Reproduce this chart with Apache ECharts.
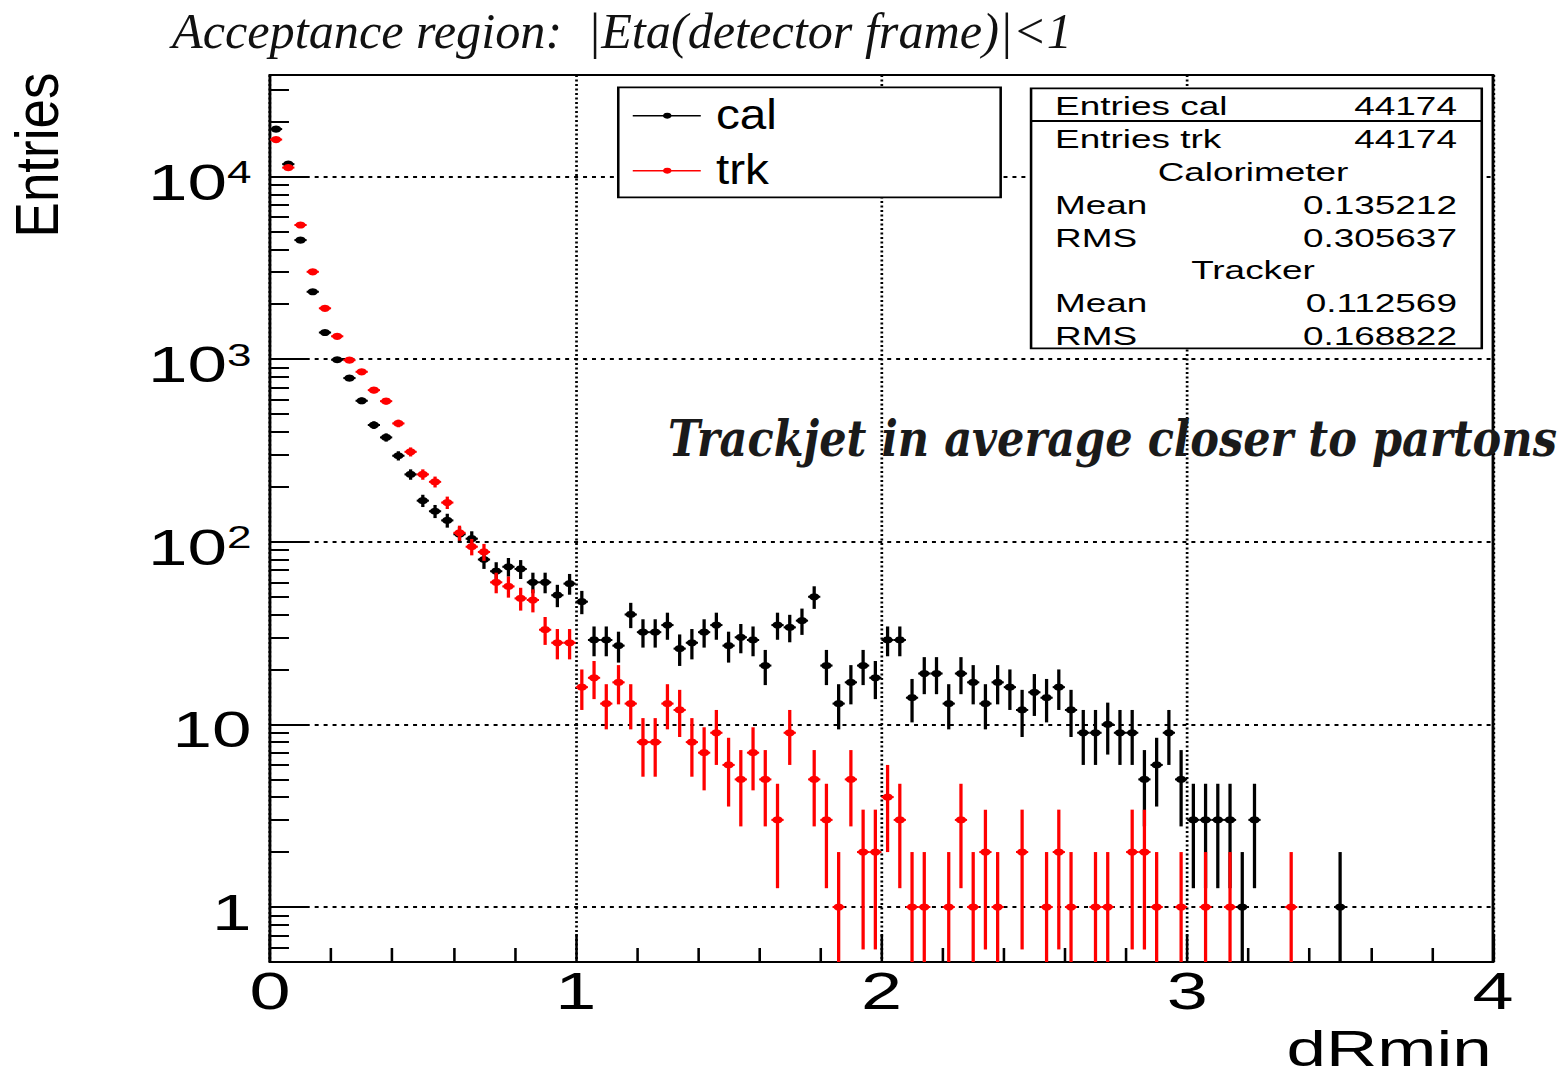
<!DOCTYPE html>
<html>
<head>
<meta charset="utf-8">
<title>dRmin</title>
<script src="https://cdn.jsdelivr.net/npm/echarts@6/dist/echarts.min.js"></script>
<style>
  html, body { margin: 0; padding: 0; background: #ffffff; overflow: hidden; }
  /* the canvas is laid out narrow and stretched sideways */
  #chart { width: 1100px; height: 1077px; transform: scaleX(1.42); transform-origin: 0 0; }
</style>
</head>
<body>
<div id="chart"></div>
<script>
// Histogram binning: 100 bins over [0, 4]
const BIN_LO = 0;
const BIN_WIDTH = 0.04;

// Entries per bin, calorimeter jets
const calCounts = [
  18200, 11700, 4490, 2340, 1400, 993, 788, 592, 436, 373,
  296, 234, 168, 147, 131, 110, 104, 80, 69, 73,
  71, 60, 60, 51, 59, 47, 29, 29, 27, 40,
  32, 32, 35, 26, 28, 32, 35, 27, 30, 29,
  21, 35, 34, 37, 50, 21, 13, 17, 21, 18,
  29, 29, 14, 19, 19, 13, 19, 17, 13, 17,
  16, 12, 15, 14, 16, 12, 9, 9, 10, 9,
  9, 5, 6, 9, 5, 3, 3, 3, 3, 1,
  3, 0, 0, 0, 0, 0, 0, 1, 0, 0,
  0, 0, 0, 0, 0, 0, 0, 0, 0, 0
];

// Entries per bin, track jets
const trkCounts = [
  15950, 11200, 5430, 3010, 1900, 1335, 988, 853, 677, 589,
  445, 311, 234, 213, 164, 112, 94, 88, 60, 57,
  49, 48, 33, 28, 28, 16, 18, 13, 17, 13,
  8, 8, 13, 12, 8, 7, 9, 6, 5, 7,
  5, 3, 9, 0, 5, 3, 1, 5, 2, 2,
  4, 3, 1, 1, 0, 1, 3, 1, 2, 1,
  0, 2, 0, 1, 2, 1, 0, 1, 1, 0,
  2, 2, 1, 0, 1, 0, 1, 0, 1, 0,
  0, 0, 0, 1, 0, 0, 0, 0, 0, 0,
  0, 0, 0, 0, 0, 0, 0, 0, 0, 0
];

const seriesNames = ['cal', 'trk'];
const seriesColors = ['#000000', '#ff0000'];

const xTicks = [0, 1, 2, 3, 4];
const yTicks = [1, 10, 100, 1000, 10000];
const yMinorTicks = [
  0.6, 0.7, 0.8, 0.9,
  2, 3, 4, 5, 6, 7, 8, 9,
  20, 30, 40, 50, 60, 70, 80, 90,
  200, 300, 400, 500, 600, 700, 800, 900,
  2000, 3000, 4000, 5000, 6000, 7000, 8000, 9000,
  20000, 30000
];

const statsLabels = ['Entries cal', 'Entries trk', 'Calorimeter', 'Mean', 'RMS', 'Tracker', 'Mean', 'RMS'];
const statsValues = ['44174', '44174', '', '0.135212', '0.305637', '', '0.112569', '0.168822'];

const titleText = 'Acceptance region:  |Eta(detector frame)|<1';
const noteText = 'Trackjet in average closer to partons';
const xTitle = 'dRmin';
const yTitle = 'Entries';

const SANS = 'Liberation Sans';
const BOX_Z = 60;

// one [centre, entries] pair per non-empty bin
function toPoints(counts) {
  const pts = [];
  counts.forEach(function (n, i) {
    if (n > 0) pts.push([BIN_LO + (i + 0.5) * BIN_WIDTH, n]);
  });
  return pts;
}

// marker with sqrt(N) vertical error and half-bin horizontal bar
function binRenderer(color) {
  return function (params, api) {
    const x = api.value(0);
    const n = api.value(1);
    const err = Math.sqrt(n);
    const cs = params.coordSys;
    const top = cs.y;
    const bottom = cs.y + cs.height;
    const p = api.coord([x, n]);
    const hi = Math.max(api.coord([x, n + err])[1], top);
    const lo = (n - err) > 0 ? Math.min(api.coord([x, n - err])[1], bottom) : bottom;
    const xl = api.coord([x - BIN_WIDTH / 2, n])[0];
    const xr = api.coord([x + BIN_WIDTH / 2, n])[0];
    return {
      type: 'group',
      children: [
        { type: 'line', shape: { x1: p[0], y1: hi, x2: p[0], y2: lo }, style: { stroke: color, lineWidth: 2.3 } },
        { type: 'line', shape: { x1: xl, y1: p[1], x2: xr, y2: p[1] }, style: { stroke: color, lineWidth: 2 } },
        { type: 'circle', shape: { cx: p[0], cy: p[1], r: 3.6 }, style: { fill: color } }
      ]
    };
  };
}

const measureCtx = document.createElement('canvas').getContext('2d');
function textWidth(text, font) {
  measureCtx.font = font;
  return measureCtx.measureText(text).width;
}

const TITLE_FONT = 'italic 50px "Liberation Serif"';
const NOTE_FONT = 'italic bold 50px "DejaVu Serif"';
const titleScale = 633.8 / textWidth(titleText, TITLE_FONT);
const noteScale = 626 / textWidth(noteText, NOTE_FONT);

// legend box
const legendBox = { x: 435.4, y: 87.3, w: 269.3, h: 110 };
const legendRowsY = [115.7, 170.7];
const legendChildren = [
  { type: 'rect', z: BOX_Z, shape: { x: legendBox.x, y: legendBox.y, width: legendBox.w, height: legendBox.h },
    style: { fill: '#ffffff', stroke: '#000000', lineWidth: 1.8 } }
];
seriesNames.forEach(function (name, i) {
  const y = legendRowsY[i];
  legendChildren.push(
    { type: 'line', z: BOX_Z + 1, shape: { x1: 445.6, y1: y, x2: 493.5, y2: y }, style: { stroke: seriesColors[i], lineWidth: 1.5 } },
    { type: 'circle', z: BOX_Z + 1, shape: { cx: 469.9, cy: y, r: 3 }, style: { fill: seriesColors[i] } },
    { type: 'text', z: BOX_Z + 1, x: 504.2, y: y - 1.5, scaleX: 0.8,
      style: { text: name, font: '42px "' + SANS + '"', fill: '#000000', align: 'left', verticalAlign: 'middle' } }
  );
});

// statistics box
const statsBox = { x: 726.1, y: 88.3, w: 317.4, h: 260 };
const statsChildren = [
  { type: 'rect', z: BOX_Z, shape: { x: statsBox.x, y: statsBox.y, width: statsBox.w, height: statsBox.h },
    style: { fill: '#ffffff', stroke: '#000000', lineWidth: 1.8 } },
  { type: 'line', z: BOX_Z + 1, shape: { x1: statsBox.x, y1: 121, x2: statsBox.x + statsBox.w, y2: 121 },
    style: { stroke: '#000000', lineWidth: 1.8 } }
];
statsLabels.forEach(function (label, i) {
  const y = 106 + i * 32.9;
  const font = '26px "' + SANS + '"';
  if (statsValues[i] === '') {
    statsChildren.push({ type: 'text', z: BOX_Z + 1, x: 882.4, y: y,
      style: { text: label, font: font, fill: '#000000', align: 'center', verticalAlign: 'middle' } });
  } else {
    statsChildren.push(
      { type: 'text', z: BOX_Z + 1, x: 743, y: y, style: { text: label, font: font, fill: '#000000', align: 'left', verticalAlign: 'middle' } },
      { type: 'text', z: BOX_Z + 1, x: 1026, y: y, style: { text: statsValues[i], font: font, fill: '#000000', align: 'right', verticalAlign: 'middle' } }
    );
  }
});

function powerLabel(v) {
  const e = Math.round(Math.log10(v));
  if (e === 0) return '{b|1}';
  if (e === 1) return '{b|10}';
  return '{b|10}{s|' + e + '}';
}

const chart = echarts.init(document.getElementById('chart'), null, { renderer: 'svg' });

chart.setOption({
  animation: false,
  backgroundColor: '#ffffff',
  textStyle: { fontFamily: SANS, color: '#000000' },
  grid: {
    left: 190.1, right: 48.6, top: 75, bottom: 115,
    containLabel: false, outerBoundsMode: 'none',
    show: true, borderColor: '#000000', borderWidth: 2, backgroundColor: 'transparent'
  },
  xAxis: {
    type: 'value', min: 0, max: 4, interval: 1,
    axisLine: { show: false },
    axisTick: { show: true, inside: true, length: 28, lineStyle: { color: '#000000', width: 1.8 } },
    minorTick: { show: true, splitNumber: 5, length: 14, lineStyle: { color: '#000000', width: 1.8 } },
    axisLabel: { customValues: xTicks, fontSize: 52, fontFamily: SANS, color: '#000000', margin: 3,
      formatter: function (v) { return String(v); } },
    splitLine: { show: true, lineStyle: { color: '#000000', width: 1.9, type: [2, 2.5] } }
  },
  yAxis: [
    {
      type: 'log', logBase: 10, min: 0.5, max: 36000, position: 'left',
      axisLine: { show: false },
      axisTick: { show: true, inside: true, length: 26.8, customValues: yTicks, lineStyle: { color: '#000000', width: 2 } },
      axisLabel: {
        customValues: yTicks, margin: 13, formatter: powerLabel,
        rich: {
          b: { fontSize: 50, fontFamily: SANS, color: '#000000', lineHeight: 50, padding: [11, 0, 0, 0] },
          s: { fontSize: 31, fontFamily: SANS, color: '#000000', lineHeight: 31, verticalAlign: 'top', padding: [5.5, 0, 0, 0] }
        }
      },
      splitLine: { show: true, lineStyle: { color: '#000000', width: 2, type: [2.8, 3.5] } }
    },
    {
      type: 'log', logBase: 10, min: 0.5, max: 36000, position: 'left',
      axisLine: { show: false },
      axisLabel: { show: false },
      splitLine: { show: false },
      axisTick: { show: true, inside: true, length: 13.4, customValues: yMinorTicks, lineStyle: { color: '#000000', width: 2 } }
    }
  ],
  series: [
    { name: seriesNames[0], type: 'custom', yAxisIndex: 0, silent: true, z: 3,
      renderItem: binRenderer(seriesColors[0]), data: toPoints(calCounts) },
    { name: seriesNames[1], type: 'custom', yAxisIndex: 0, silent: true, z: 4,
      renderItem: binRenderer(seriesColors[1]), data: toPoints(trkCounts) }
  ],
  graphic: [
    { type: 'text', x: 121.1, y: 31, scaleX: titleScale, z: BOX_Z,
      style: { text: titleText, font: TITLE_FONT, fill: '#111111', align: 'left', verticalAlign: 'middle' } },
    { type: 'text', x: 25.7, y: 155, rotation: Math.PI / 2, scaleY: 0.81, z: BOX_Z,
      style: { text: yTitle, font: '53px "' + SANS + '"', fill: '#000000', align: 'center', verticalAlign: 'middle' } },
    { type: 'text', x: 1050.5, y: 1048.5, z: BOX_Z,
      style: { text: xTitle, font: '50px "' + SANS + '"', lineHeight: 40, fill: '#000000', align: 'right', verticalAlign: 'middle' } },
    { type: 'group', z: BOX_Z, children: legendChildren },
    { type: 'group', z: BOX_Z, children: statsChildren },
    { type: 'text', x: 470.4, y: 438.7, scaleX: noteScale, z: BOX_Z,
      style: { text: noteText, font: NOTE_FONT, fill: '#1a1a1a', align: 'left', verticalAlign: 'middle' } }
  ]
});
</script>
</body>
</html>
